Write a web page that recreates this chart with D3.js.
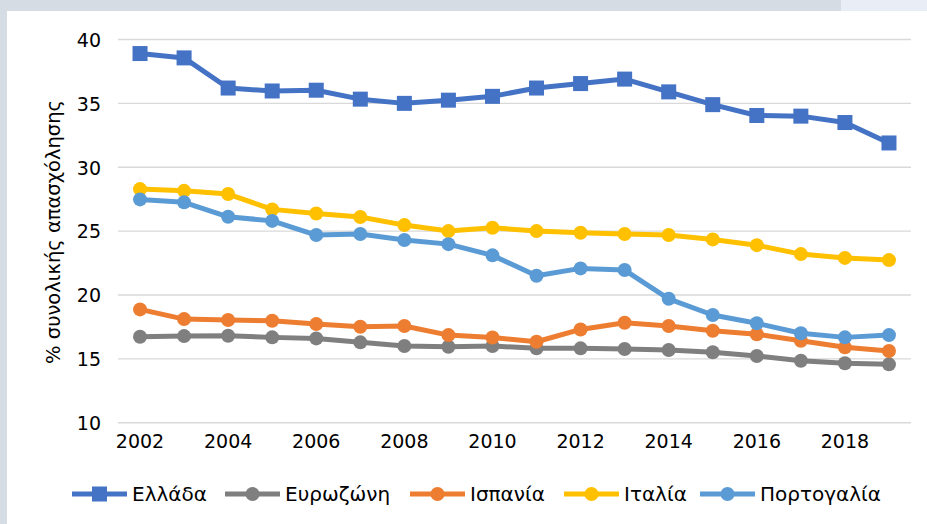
<!DOCTYPE html>
<html><head><meta charset="utf-8">
<script src="https://cdn.jsdelivr.net/npm/d3@7"></script>
<style>html,body{margin:0;padding:0;background:#fff;}svg{display:block;}</style>
</head><body>
<svg id="chart" width="927" height="524"></svg>
<script>
const years = [2002,2003,2004,2005,2006,2007,2008,2009,2010,2011,2012,2013,2014,2015,2016,2017,2018,2019];
const seriesNames = ["Ελλάδα","Ευρωζώνη","Ισπανία","Ιταλία","Πορτογαλία"];
const greece   = [38.9,38.56,36.2,35.97,36.03,35.33,35.0,35.25,35.55,36.2,36.55,36.9,35.9,34.9,34.05,34.0,33.5,31.9];
const eurozone = [16.73,16.78,16.81,16.68,16.6,16.29,16.0,15.95,16.0,15.82,15.82,15.77,15.69,15.51,15.22,14.85,14.65,14.57];
const spain    = [18.87,18.11,18.04,17.98,17.72,17.51,17.57,16.86,16.67,16.34,17.3,17.83,17.57,17.2,16.92,16.42,15.9,15.61];
const italy    = [28.29,28.15,27.9,26.7,26.38,26.1,25.47,25.0,25.26,25.0,24.87,24.77,24.7,24.35,23.9,23.2,22.9,22.73];
const portugal = [27.48,27.25,26.12,25.8,24.69,24.77,24.3,23.98,23.1,21.5,22.08,21.95,19.7,18.43,17.78,17.0,16.68,16.86];
const yTicks = [10,15,20,25,30,35,40];
const xTickLabels = ["2002","2004","2006","2008","2010","2012","2014","2016","2018"];
const yTitle = "% συνολικής απασχόλησης";

const colors = ["#4472C4","#7F7F7F","#ED7D31","#FFC000","#5B9BD5"];
const markers = ["square","circle","circle","circle","circle"];
const allValues = [greece, eurozone, spain, italy, portugal];

const svg = d3.select("#chart");
const font = "'DejaVu Sans', sans-serif";

// background frame
svg.append("rect").attr("x",0).attr("y",0).attr("width",927).attr("height",524).attr("fill","#d6dce4");
svg.append("rect").attr("x",841).attr("y",0).attr("width",86).attr("height",11).attr("fill","#e9eef6");
svg.append("rect").attr("x",7).attr("y",11).attr("width",920).attr("height",513).attr("fill","#ffffff");

const x = d3.scaleBand().domain(years.map(String)).range([118, 911]);
const y = d3.scaleLinear().domain([10, 40]).range([422.7, 39.5]);

// gridlines
svg.append("g").selectAll("line").data(yTicks).join("line")
  .attr("x1",118).attr("x2",911)
  .attr("y1",d=>y(d)).attr("y2",d=>y(d))
  .attr("stroke","#d9d9d9").attr("stroke-width",1.4);

// y axis labels
const yAxis = d3.axisLeft(y).tickValues(yTicks).tickSize(0).tickPadding(0);
const gy = svg.append("g").attr("transform","translate(101,0)").call(yAxis);
gy.select(".domain").remove();
gy.selectAll("text").attr("font-family",font).attr("font-size",19).attr("fill","#000").attr("dy","0.36em");

// x axis labels
const xAxis = d3.axisBottom(x).tickValues(xTickLabels).tickSize(0).tickPadding(0);
const gx = svg.append("g").attr("transform","translate(0,434)").call(xAxis);
gx.select(".domain").remove();
gx.selectAll("text").attr("font-family",font).attr("font-size",19).attr("fill","#000").attr("dy","0.71em");

// y title
svg.append("text").attr("transform","translate(60,232) rotate(-90)")
  .attr("text-anchor","middle").attr("font-family",font).attr("font-size",19.5).attr("fill","#000")
  .text(yTitle);

const cx = d => x(String(d)) + x.bandwidth()/2;
const line = d3.line().x((d,i)=>cx(years[i])).y(d=>y(d));

allValues.forEach((vals,k)=>{
  const g = svg.append("g");
  g.append("path").datum(vals).attr("d",line).attr("fill","none")
    .attr("stroke",colors[k]).attr("stroke-width",5).attr("stroke-linejoin","round");
  if (markers[k]==="square") {
    g.selectAll("rect").data(vals).join("rect")
      .attr("x",(d,i)=>cx(years[i])-7.5).attr("y",d=>y(d)-7.5)
      .attr("width",15).attr("height",15).attr("fill",colors[k]);
  } else {
    g.selectAll("circle").data(vals).join("circle")
      .attr("cx",(d,i)=>cx(years[i])).attr("cy",d=>y(d)).attr("r",7).attr("fill",colors[k]);
  }
});

// legend
const legendX = [72,225,410,564,700];
const lg = svg.append("g");
seriesNames.forEach((name,k)=>{
  const lx = legendX[k], ly = 494;
  lg.append("line").attr("x1",lx).attr("x2",lx+55).attr("y1",ly).attr("y2",ly)
    .attr("stroke",colors[k]).attr("stroke-width",5);
  if (markers[k]==="square") {
    lg.append("rect").attr("x",lx+27.5-7.5).attr("y",ly-7.5).attr("width",15).attr("height",15).attr("fill",colors[k]);
  } else {
    lg.append("circle").attr("cx",lx+27.5).attr("cy",ly).attr("r",7).attr("fill",colors[k]);
  }
  lg.append("text").attr("x",lx+60).attr("y",ly).attr("dy","0.36em")
    .attr("font-family",font).attr("font-size",20).attr("fill","#000").text(name);
});
</script>
</body></html>
